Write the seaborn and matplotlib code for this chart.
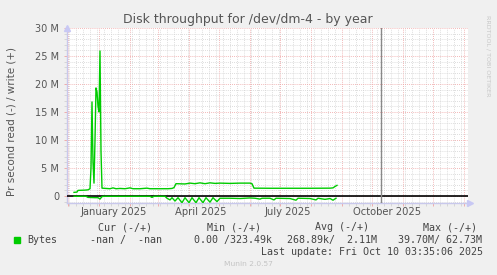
import matplotlib
matplotlib.use("Agg")
import matplotlib.pyplot as plt
import matplotlib.dates as mdates
import matplotlib.transforms as mtransforms
from matplotlib.ticker import MultipleLocator
import seaborn as sns
import pandas as pd

# ---------------- data (MB per second) ----------------
write_dates = ["2024-12-07", "2024-12-10", "2024-12-11", "2024-12-18", "2024-12-21",
               "2024-12-23", "2024-12-24", "2024-12-25", "2024-12-26", "2024-12-27",
               "2024-12-28", "2024-12-29", "2024-12-30", "2024-12-31", "2025-01-01",
               "2025-01-02", "2025-01-03", "2025-01-04", "2025-01-12", "2025-01-15",
               "2025-01-18", "2025-01-22", "2025-01-27", "2025-02-01", "2025-02-04",
               "2025-02-11", "2025-02-18", "2025-02-21", "2025-03-03", "2025-03-11",
               "2025-03-15", "2025-03-17", "2025-03-19", "2025-03-28", "2025-04-02",
               "2025-04-07", "2025-04-12", "2025-04-17", "2025-04-22", "2025-04-27",
               "2025-05-02", "2025-05-12", "2025-05-22", "2025-06-01", "2025-06-03",
               "2025-06-05", "2025-06-21", "2025-07-11", "2025-07-31", "2025-08-20",
               "2025-08-23", "2025-08-25", "2025-08-27"]
write_mb = [0.65, 0.7, 1.0, 1.05, 1.1,
            1.3, 5.0, 16.8, 6.0, 2.3,
            10.0, 19.3, 18.6, 16.0, 15.0,
            25.9, 8.0, 1.4, 1.3, 1.45,
            1.3, 1.35, 1.3, 1.45, 1.3,
            1.3, 1.4, 1.3, 1.3, 1.3,
            1.35, 1.5, 2.2, 2.15, 2.3,
            2.2, 2.35, 2.2, 2.35, 2.25,
            2.3, 2.25, 2.3, 2.3, 2.2,
            1.4, 1.38, 1.38, 1.38, 1.4,
            1.45, 1.7, 1.9]

read_dates = ["2024-12-07", "2024-12-19", "2024-12-21", "2024-12-28", "2024-12-31",
              "2025-01-02", "2025-01-04", "2025-01-06", "2025-02-21", "2025-02-23",
              "2025-02-25", "2025-03-08", "2025-03-10", "2025-03-13", "2025-03-15",
              "2025-03-18", "2025-03-21", "2025-03-25", "2025-03-28", "2025-04-01",
              "2025-04-04", "2025-04-08", "2025-04-11", "2025-04-15", "2025-04-18",
              "2025-04-22", "2025-04-25", "2025-04-29", "2025-05-02", "2025-05-12",
              "2025-05-22", "2025-06-01", "2025-06-06", "2025-06-11", "2025-06-13",
              "2025-06-21", "2025-06-25", "2025-06-27", "2025-07-11", "2025-07-17",
              "2025-07-19", "2025-07-31", "2025-08-06", "2025-08-08", "2025-08-15",
              "2025-08-20", "2025-08-23", "2025-08-26"]
read_mb = [0.05, 0.05, 0.25, 0.3, 0.3,
           0.55, 0.1, 0.05, 0.05, 0.25,
           0.05, 0.05, 0.4, 0.7, 0.3,
           0.9, 0.3, 1.2, 0.3, 1.2,
           0.3, 1.2, 0.3, 1.2, 0.3,
           1.1, 0.3, 1.0, 0.4, 0.4,
           0.45, 0.35, 0.4, 0.55, 0.4,
           0.4, 0.7, 0.4, 0.45, 0.75,
           0.4, 0.45, 0.7, 0.4, 0.6,
           0.45, 0.75, 0.4]

y_ticks = [0, 5, 10, 15, 20, 25, 30]
y_tick_labels = ["0", "5 M", "10 M", "15 M", "20 M", "25 M", "30 M"]
x_label_dates = ["2025-01-16", "2025-04-13", "2025-07-09", "2025-10-16"]
x_labels = ["January 2025", "April 2025", "July 2025", "October 2025"]
now_date = "2025-10-10"
x_start, x_end = "2024-11-30", "2026-01-05"

title = "Disk throughput for /dev/dm-4 - by year"
ylabel = "Pr second read (-) / write (+)"
legend_headers = ["Cur (-/+)", "Min (-/+)", "Avg (-/+)", "Max (-/+)"]
legend_values = ["-nan /  -nan", "0.00 /323.49k", "268.89k/  2.11M", "39.70M/ 62.73M"]
series_name = "Bytes"
last_update = "Last update: Fri Oct 10 03:35:06 2025"
footer = "Munin 2.0.57"
side_text = "RRDTOOL / TOBI OETIKER"

# ---------------- figure ----------------
W, H = 497, 275
BG = "#f0f0f0"
GREEN = "#00cc00"
fig = plt.figure(figsize=(W / 100, H / 100), dpi=100, facecolor=BG)
ax = fig.add_axes([67 / W, 1 - 203 / H, (468 - 67) / W, (203 - 28) / H])
ax.set_facecolor("white")

df_w = pd.DataFrame({"date": pd.to_datetime(write_dates), "value": write_mb})
df_r = pd.DataFrame({"date": pd.to_datetime(read_dates), "value": [-v for v in read_mb]})

ax.axhline(0, color="black", lw=1.2, zorder=3)
ax.axvline(pd.Timestamp(now_date), color="#888888", lw=1.0, zorder=3)
sns.lineplot(data=df_w, x="date", y="value", color=GREEN, lw=1.0, ax=ax, zorder=4)
sns.lineplot(data=df_r, x="date", y="value", color=GREEN, lw=1.0, ax=ax, zorder=4)

ax.set_xlim(pd.Timestamp(x_start), pd.Timestamp(x_end))
ax.set_ylim(-1.25, 30)

# grids
ax.xaxis.set_major_locator(mdates.MonthLocator())
ax.xaxis.set_minor_locator(mdates.WeekdayLocator(byweekday=mdates.MO))
ax.xaxis.set_major_formatter(plt.NullFormatter())
ax.yaxis.set_major_locator(plt.FixedLocator(y_ticks))
ax.yaxis.set_minor_locator(MultipleLocator(1))
ax.set_yticklabels(y_tick_labels)

red = "#eea0a0"
grey = "#d2d2d2"
ax.grid(which="minor", color=grey, lw=0.6, linestyle=(0, (1, 1.5)), zorder=1)
ax.grid(which="major", color=red, lw=0.6, linestyle=(0, (1, 1.5)), zorder=2)
ax.set_axisbelow(True)

ax.tick_params(axis="both", which="major", length=2.5, width=0.6, color=red,
               labelsize=7, labelcolor="#555555", pad=3)
ax.tick_params(axis="both", which="minor", length=2, width=0.6, color=grey)
ax.set_xlabel("")
ax.set_ylabel(ylabel, fontsize=7.5, color="#555555")
ax.yaxis.set_label_coords((16 - 67) / 401, (203 - 122) / 175)

for s in ["top", "right"]:
    ax.spines[s].set_visible(False)
for s in ["left", "bottom"]:
    ax.spines[s].set_color("#c8c8ec")
    ax.spines[s].set_linewidth(1.0)
ax.plot([0], [1.0], marker="^", ms=4, color="#c8c8f4", transform=ax.transAxes,
        clip_on=False, zorder=5)
ax.plot([1.005], [0], marker=">", ms=4, color="#c8c8f4", transform=ax.transAxes,
        clip_on=False, zorder=5)

trans = mtransforms.blended_transform_factory(ax.transData, ax.transAxes)
for d, lab in zip(x_label_dates, x_labels):
    ax.text(pd.Timestamp(d), (203 - 212) / 175, lab, transform=trans, ha="center",
            va="center", fontsize=7.2, color="#555555")

# title and side text
fig.text(248 / W, 1 - 19 / H, title, ha="center", va="center", fontsize=9, color="#555555")
fig.text(488 / W, 1 - 15 / H, side_text, ha="center", va="top", rotation=-90,
         fontsize=4.6, color="#c8c8c8")

# legend block
mono = "DejaVu Sans Mono"
hx = [98, 207, 315, 423]
for x, t in zip(hx, legend_headers):
    fig.text(x / W, 1 - 227 / H, t, ha="left", va="center", fontsize=7.2,
             family=mono, color="#444444")
fig.patches.append(plt.Rectangle((14 / W, 1 - 243 / H), 6 / W, 6 / H, color=GREEN,
                                 transform=fig.transFigure, figure=fig))
fig.text(27 / W, 1 - 240 / H, series_name, ha="left", va="center", fontsize=7.2,
         family=mono, color="#444444")
vx = [90, 194, 287, 398]
for x, t in zip(vx, legend_values):
    fig.text(x / W, 1 - 240 / H, t, ha="left", va="center", fontsize=7.2,
             family=mono, color="#444444")
fig.text(483 / W, 1 - 252 / H, last_update, ha="right", va="center", fontsize=7.2,
         family=mono, color="#444444")
fig.text(248 / W, 1 - 264 / H, footer, ha="center", va="center", fontsize=5.4,
         color="#c4c4c4")

fig.savefig("out.png", dpi=100, facecolor=BG)
